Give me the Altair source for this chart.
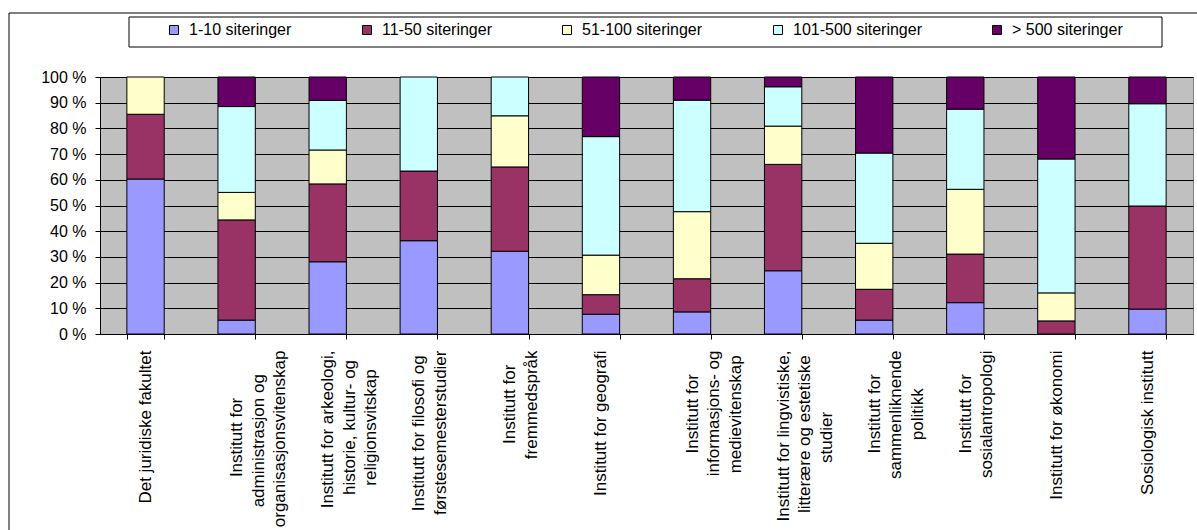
import json
import altair as alt
import pandas as pd

categories = [
    "Det juridiske fakultet",
    "Institutt for|administrasjon og|organisasjonsvitenskap",
    "Institutt for arkeologi,|historie, kultur- og|religionsvitskap",
    "Institutt for filosofi og|førstesemesterstudier",
    "Institutt for|fremmedspråk",
    "Institutt for geografi",
    "Institutt for|informasjons- og|medievitenskap",
    "Institutt for lingvistiske,|litterære og estetiske|studier",
    "Institutt for|sammenliknende|politikk",
    "Institutt for|sosialantropologi",
    "Institutt for økonomi",
    "Sosiologisk institutt",
]

series = ["1-10 siteringer", "11-50 siteringer", "51-100 siteringer",
          "101-500 siteringer", "> 500 siteringer"]
colors = ["#9999FF", "#993366", "#FFFFCC", "#CCFFFF", "#660066"]

s_1_10 = [60.3, 5.4, 28.1, 36.3, 32.2, 7.7, 8.6, 24.6, 5.4, 12.2, 0.0, 9.7]
s_11_50 = [25.2, 39.0, 30.3, 27.1, 32.8, 7.6, 12.9, 41.4, 12.0, 18.9, 5.1, 40.1]
s_51_100 = [14.5, 10.7, 13.2, 0.0, 19.9, 15.4, 26.1, 14.9, 17.9, 25.2, 10.9, 0.0]
s_101_500 = [0.0, 33.4, 19.3, 36.6, 15.1, 46.1, 43.4, 15.3, 35.1, 31.2, 52.1, 39.8]
s_500 = [0.0, 11.5, 9.1, 0.0, 0.0, 23.2, 9.0, 3.8, 29.6, 12.5, 31.9, 10.4]

values_by_series = [s_1_10, s_11_50, s_51_100, s_101_500, s_500]
y_ticks = [0, 0.1, 0.2, 0.3, 0.4, 0.5, 0.6, 0.7, 0.8, 0.9, 1.0]

rows = []
for si, (name, vals) in enumerate(zip(series, values_by_series)):
    for cat, v in zip(categories, vals):
        if v > 0:
            rows.append({"cat": cat, "series": name, "idx": si, "value": v})
df = pd.DataFrame(rows)

FONT = "Liberation Sans"
XFS = 17

# Arial advance widths (em/1000) used to centre each line of the rotated labels
ARIAL = {
    "a": 556, "b": 556, "c": 500, "d": 556, "e": 556, "f": 278, "g": 556, "h": 556,
    "i": 222, "j": 222, "k": 500, "l": 222, "m": 833, "n": 556, "o": 556, "p": 556,
    "r": 333, "s": 500, "t": 278, "u": 556, "v": 500, "y": 500, "å": 556, "ø": 611,
    "æ": 889, "I": 278, "S": 667, "D": 722, " ": 278, ",": 278, "-": 333,
}


def text_w(s):
    return sum(ARIAL.get(ch, 556) for ch in s)


label_map = {}
for cat in categories:
    lines = cat.split("|")
    longest = max(text_w(l) for l in lines)
    padded = []
    for l in lines:
        n = round((longest - text_w(l)) / 2 / 278)
        # non-breaking spaces, closed by a zero-width space so they are not trimmed
        padded.append(l + ("\u00a0" * n + "\u200b" if n else ""))
    label_map[cat] = padded

label_expr = json.dumps(label_map, ensure_ascii=False) + "[datum.label]"

bars = alt.Chart(df).mark_bar(stroke="black", strokeWidth=1, opacity=1).encode(
    x=alt.X("cat:N", sort=categories, title=None,
            scale=alt.Scale(paddingInner=0.59, paddingOuter=0.295),
            axis=alt.Axis(labelAngle=-90, labelAlign="right", labelBaseline="middle",
                          labelPadding=11, labelLineHeight=21.5, labelLimit=400,
                          labelOverlap=False, labelExpr=label_expr,
                          labelFont=FONT, labelFontSize=XFS, labelColor="black",
                          tickBand="extent", tickSize=5, tickColor="black",
                          domainColor="black", grid=False)),
    y=alt.Y("value:Q", stack="normalize", title=None,
            scale=alt.Scale(domain=[0, 1]),
            axis=alt.Axis(values=y_ticks, labelExpr="round(datum.value*100) + ' %'",
                          labelFont=FONT, labelFontSize=16, labelColor="black",
                          labelPadding=9, tickSize=5, tickColor="black",
                          domainColor="black", grid=True, gridColor="black",
                          gridWidth=1, gridOpacity=1)),
    color=alt.Color("series:N", scale=alt.Scale(domain=series, range=colors),
                    legend=alt.Legend(orient="none", legendX=66, legendY=-55,
                                      direction="horizontal", columns=5,
                                      columnPadding=67, title=None,
                                      symbolType="square", symbolSize=81,
                                      symbolStrokeColor="black", symbolStrokeWidth=1,
                                      symbolOpacity=1,
                                      labelFont=FONT, labelFontSize=16,
                                      labelColor="black", labelOffset=7, padding=0)),
    order=alt.Order("idx:Q", sort="ascending"),
)

one = alt.Data(values=[{"a": 1}])

frame = alt.Chart(one).mark_rect(fillOpacity=0, stroke="black", strokeWidth=1).encode(
    x=alt.value(-91), x2=alt.value(1110), y=alt.value(-64), y2=alt.value(470)
)

legend_box = alt.Chart(one).mark_rect(fill="white", stroke="black", strokeWidth=1).encode(
    x=alt.value(29), x2=alt.value(1062), y=alt.value(-60), y2=alt.value(-30)
)

chart = alt.layer(frame, legend_box, bars).properties(
    width=1093, height=257,
    autosize=alt.AutoSizeParams(type="none"),
    padding={"left": 100, "top": 77, "right": 4, "bottom": 196},
    background="white",
).configure_view(fill="#C0C0C0", stroke="#808080")

chart.save("out.html", embed_options={"renderer": "svg", "actions": False})
